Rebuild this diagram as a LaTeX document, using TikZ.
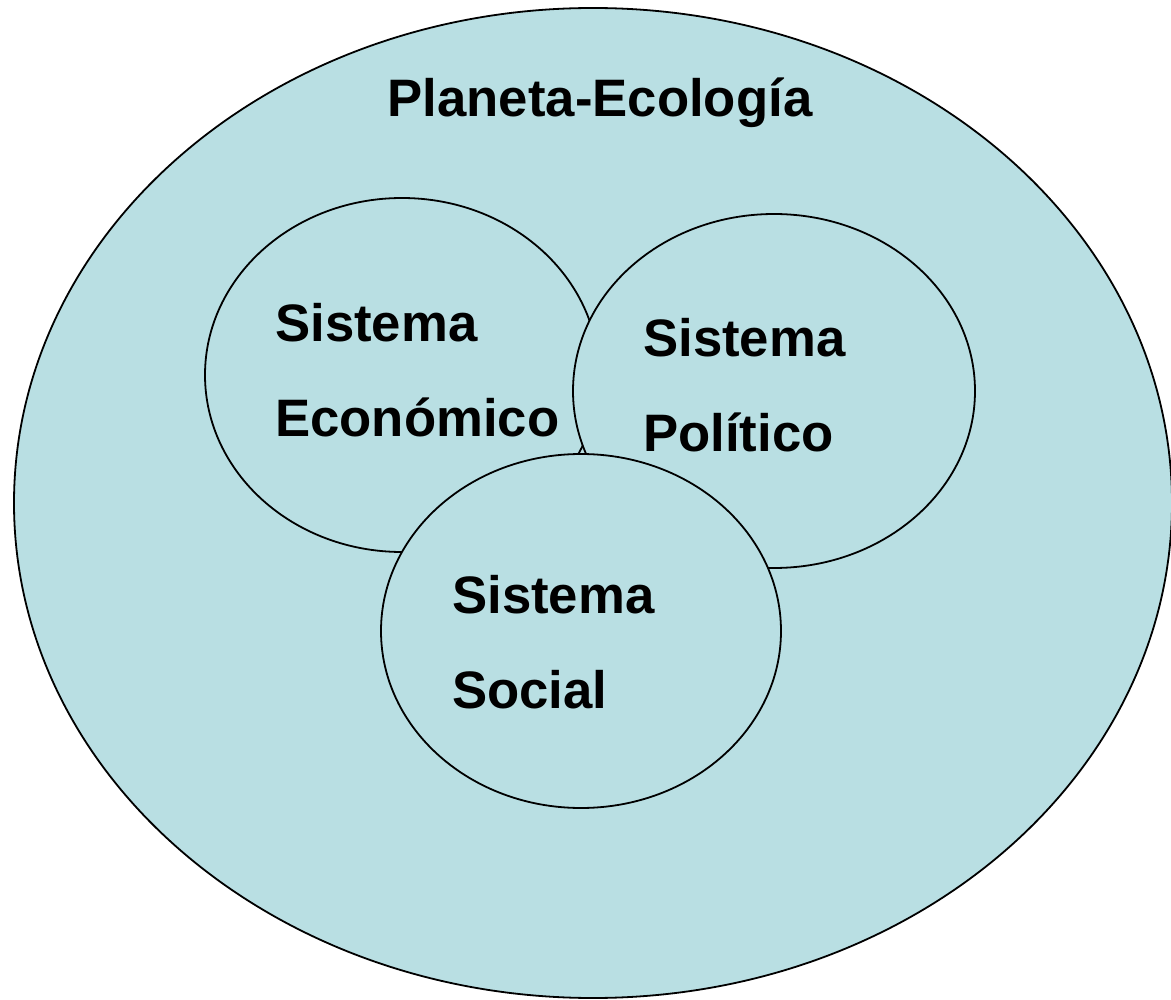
\documentclass[tikz,border=0pt]{standalone}
\usepackage{fontspec}
\setmainfont{Liberation Sans}
\usetikzlibrary{shapes.geometric}
\definecolor{sysfill}{RGB}{185,223,227}
\begin{document}
\begin{tikzpicture}[x=1pt,y=-1pt,
  sysell/.style={ellipse,draw=black,line width=1.8pt,fill=sysfill,inner sep=0pt},
  lbl/.style={anchor=base west,inner sep=0pt,font=\fontsize{52.7}{60}\selectfont\bfseries}]
\useasboundingbox (0,0) rectangle (1171,1000);
\node[sysell,minimum width=1158pt,minimum height=990pt] (planeta) at (593,503) {};
\node[sysell,minimum width=394pt,minimum height=354pt] (econ) at (402,375) {};
\node[sysell,minimum width=402pt,minimum height=354pt] (pol) at (774,391) {};
\node[sysell,minimum width=400pt,minimum height=354pt] (soc) at (581,631) {};
\node[lbl,anchor=base] (tplaneta) at (600,117) {Planeta-Ecología};
\node[lbl] (te1) at (275,342) {Sistema};
\node[lbl] (te2) at (275,437) {Económico};
\node[lbl] (tp1) at (643,357) {Sistema};
\node[lbl] (tp2) at (643,452) {Político};
\node[lbl] (ts1) at (452,613) {Sistema};
\node[lbl] (ts2) at (452,708) {Social};
\end{tikzpicture}
\end{document}
